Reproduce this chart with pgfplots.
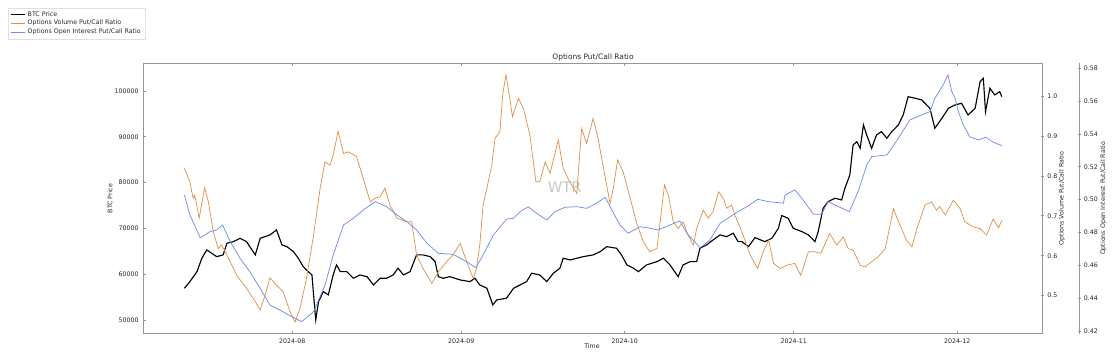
\documentclass[border=0pt]{standalone}
\usepackage{fontspec}
\setmainfont{DejaVu Sans}
\usepackage{pgfplots}
\usepackage{pgfplotstable}
\pgfplotsset{compat=1.18}
\definecolor{volc}{RGB}{224,145,75}
\definecolor{oic}{RGB}{110,140,235}
\definecolor{spine}{RGB}{150,150,150}

\pgfplotstableread{
x y
-19.8 56930
-18.8 58370
-17.5 60550
-16.6 63480
-15.7 65290
-14.8 64570
-13.9 63830
-12.7 64200
-12.0 66750
-10.8 67100
-9.6 67840
-8.4 67100
-6.8 64200
-5.9 67840
-4.1 68570
-2.9 69660
-1.9 66380
-1.0 66010
0.2 64920
1.1 63480
2.0 61640
2.6 60920
3.6 59830
3.9 55470
4.3 50010
4.8 54000
5.7 56190
6.6 55470
7.5 59830
8.1 62020
8.8 60550
10.0 60550
11.2 59110
12.4 59830
13.7 59460
14.9 57650
16.1 59110
17.3 59110
18.5 59830
19.4 61300
20.4 59830
21.6 60550
22.8 64200
24.0 64200
25.3 63830
26.2 62740
26.8 59460
27.7 59110
28.9 59460
30.8 58740
32.6 58370
33.5 59110
34.4 57650
35.7 56930
36.8 53280
37.5 54380
39.3 54750
40.6 56930
41.8 57650
43.0 58370
43.9 60200
45.4 59830
46.7 58370
47.9 60200
49.1 61300
49.7 63480
51.0 63110
52.2 63480
53.4 63830
55.2 64200
56.5 64920
57.7 66010
59.5 65660
60.4 64200
61.4 62020
62.6 61300
63.5 60550
65.0 62020
66.9 62740
68.1 63480
69.3 62020
70.8 59460
71.7 62020
73.0 62740
74.2 62740
74.8 65660
76.0 66380
77.2 67470
78.5 68570
79.7 68190
80.9 68940
81.8 67100
82.5 67100
83.7 66010
84.9 67980
86.7 67100
88.0 67840
89.2 70030
89.8 72780
91.0 72210
91.9 70030
93.5 69290
94.7 68570
95.9 67100
96.5 69290
97.4 74390
98.3 75830
99.6 76580
100.8 76200
101.4 78760
102.3 81660
102.9 88210
103.6 88930
104.2 87490
104.8 92580
105.4 90400
106.3 87490
107.2 90400
108.1 91120
109.1 89670
110.0 91120
111.2 92580
112.1 94760
113.0 98760
114.3 98410
115.5 98040
116.4 96940
117.0 96220
117.9 91860
119.2 94040
120.4 96220
121.6 96940
122.8 97310
124.0 94760
125.3 96220
126.2 102030
126.8 102770
127.2 95480
128.0 100590
128.9 99130
129.8 99850
130.2 98760
}\btc

\pgfplotstableread{
x y
-19.8 0.819
-18.8 0.785
-18.2 0.744
-17.9 0.752
-17.1 0.694
-16.1 0.770
-15.4 0.735
-14.5 0.660
-13.6 0.618
-13.0 0.627
-12.0 0.602
-10.2 0.551
-8.4 0.518
-6.8 0.485
-5.9 0.464
-5.0 0.501
-4.1 0.545
-2.9 0.526
-1.7 0.510
-0.4 0.459
0.5 0.434
1.4 0.468
2.6 0.543
3.9 0.652
5.1 0.769
6.0 0.835
6.9 0.827
7.5 0.852
8.4 0.912
9.4 0.856
10.3 0.860
11.8 0.848
13.0 0.794
14.3 0.735
15.2 0.744
16.1 0.748
17.0 0.769
17.9 0.727
19.2 0.694
21.0 0.685
21.9 0.685
22.8 0.602
24.0 0.568
25.6 0.531
26.8 0.560
28.3 0.585
29.5 0.602
30.8 0.631
32.0 0.585
33.2 0.543
33.8 0.568
34.4 0.627
35.0 0.727
35.7 0.769
36.6 0.827
37.2 0.894
38.1 0.911
38.6 1.003
39.2 1.053
39.8 1.003
40.4 0.948
41.5 0.994
42.4 0.969
43.6 0.902
44.7 0.785
45.4 0.785
46.4 0.835
47.3 0.806
48.8 0.890
49.7 0.819
50.9 0.785
52.2 0.756
53.1 0.919
54.0 0.881
55.2 0.944
56.1 0.894
57.1 0.819
58.3 0.731
58.9 0.769
59.7 0.840
60.7 0.810
62.0 0.744
63.2 0.681
64.4 0.635
65.6 0.610
66.9 0.618
67.5 0.685
68.3 0.777
69.0 0.752
69.9 0.685
70.8 0.668
71.7 0.685
72.6 0.652
73.6 0.627
74.2 0.668
75.4 0.714
76.3 0.694
77.2 0.710
78.2 0.760
79.1 0.744
79.7 0.719
80.6 0.727
81.2 0.702
82.5 0.660
84.0 0.602
85.4 0.568
86.4 0.610
87.4 0.639
88.3 0.581
89.5 0.568
90.7 0.576
92.2 0.581
93.3 0.551
94.7 0.610
95.9 0.610
97.0 0.606
98.6 0.656
99.9 0.627
101.1 0.647
102.0 0.618
102.9 0.614
104.2 0.576
105.1 0.572
106.3 0.585
107.5 0.597
108.8 0.618
110.3 0.717
111.5 0.677
112.7 0.639
113.7 0.622
114.6 0.668
116.1 0.727
117.3 0.735
118.2 0.714
118.8 0.723
119.8 0.702
121.3 0.739
122.5 0.719
123.4 0.685
125.0 0.672
126.2 0.668
127.4 0.652
128.6 0.692
129.6 0.670
130.2 0.689
}\vol

\pgfplotstableread{
x y
-19.8 0.5028
-18.8 0.4907
-16.9 0.4768
-15.1 0.4805
-13.9 0.4815
-12.8 0.4846
-11.4 0.4744
-9.6 0.4643
-7.8 0.4561
-5.9 0.4460
-4.1 0.4358
-2.3 0.4328
-0.1 0.4287
1.7 0.4257
3.9 0.4318
6.0 0.4480
7.5 0.4663
9.4 0.4846
11.2 0.4886
13.0 0.4937
15.2 0.4988
17.3 0.4957
19.2 0.4907
21.0 0.4866
22.8 0.4815
24.7 0.4734
26.8 0.4673
29.5 0.4667
31.4 0.4633
33.7 0.4586
35.0 0.4663
36.9 0.4785
39.3 0.4882
40.6 0.4886
41.8 0.4927
43.3 0.4957
44.8 0.4917
46.7 0.4876
48.2 0.4927
50.0 0.4953
52.2 0.4957
54.0 0.4947
55.8 0.4978
57.4 0.5014
58.3 0.4957
60.1 0.4846
61.6 0.4795
63.8 0.4835
65.6 0.4826
67.1 0.4815
69.3 0.4846
71.1 0.4870
72.4 0.4795
74.8 0.4707
76.6 0.4754
78.5 0.4856
80.3 0.4896
81.8 0.4927
83.4 0.4957
85.4 0.5002
87.3 0.4988
90.1 0.4978
90.4 0.5028
92.2 0.5059
93.5 0.5008
95.6 0.4911
97.1 0.4911
98.3 0.4988
100.2 0.4957
102.2 0.4927
103.8 0.5048
105.4 0.5211
106.3 0.5262
109.1 0.5272
111.2 0.5374
113.3 0.5485
115.5 0.5516
117.0 0.5536
117.9 0.5617
119.4 0.5698
120.3 0.5759
121.0 0.5657
121.6 0.5617
122.2 0.5536
123.1 0.5455
124.3 0.5383
125.9 0.5363
127.2 0.5380
128.6 0.5349
130.2 0.5329
}\oi

\pgfplotsset{
  base/.style={
    scale only axis, height=202.8pt,
    at={(107.5pt,20.5pt)}, anchor=south west,
    xmin=-27.34,
    /pgf/number format/assume math mode=true,
    tick label style={font=\fontsize{4.7}{5.6}\selectfont, text=black!85},
    label style={font=\fontsize{4.7}{5.6}\selectfont, text=black!85},
    axis line style={spine, line width=0.9pt},
    tick style={spine, line width=0.5pt},
    major tick length=2pt,
    clip=false,
  }
}

\begin{document}
\begin{tikzpicture}
\useasboundingbox (0,0) rectangle (837.75pt,270.75pt);

% left axis: BTC price
\begin{axis}[base,
  width=674.5pt, xmax=137.69,
  ymin=47009, ymax=106048,
  xtick={0,31,61,92,122},
  xticklabels={2024-08,2024-09,2024-10,2024-11,2024-12},
  ytick={50000,60000,70000,80000,90000,100000},
  scaled y ticks=false,
  yticklabel style={/pgf/number format/.cd, fixed, 1000 sep={}},
  ytick pos=left,
  tick align=inside,
  xlabel={Time},
  xlabel style={at={(axis description cs:0.4989,-0.0456)}, anchor=center},
  ylabel={BTC Price},
  ylabel style={at={(axis description cs:-0.0371,0.5)}, anchor=center, rotate=0},
  legend style={at={(axis description cs:-0.1505,1.2044)}, anchor=north west,
    draw=black!12, fill=white, font=\fontsize{4.7}{5.6}\selectfont, text=black!85,
    inner xsep=1.5pt, inner ysep=1.2pt, row sep=-0.9pt,
    nodes={inner ysep=1.2pt}},
  legend cell align=left,
  legend image code/.code={\draw[line width=0.6pt,#1] (0pt,0pt) -- (10.5pt,0pt);},
]
\addlegendimage{color=black, line width=0.85pt}
\addlegendentry{BTC Price}
\addlegendimage{color=volc, line width=0.8pt, solid}
\addlegendentry{Options Volume Put/Call Ratio}
\addlegendimage{color=oic, line width=0.6pt, solid}
\addlegendentry{Options Open Interest Put/Call Ratio}
\addplot[black, line width=0.85pt, forget plot] table[x=x,y=y]{\btc};
\node[font=\fontsize{11}{12}\selectfont, text=black!22] at (axis cs:50.0,79040) {WTR};
\node[font=\fontsize{5.6}{6.5}\selectfont, text=black!85] at (axis description cs:0.5,1.0232) {Options Put/Call Ratio};
\end{axis}

% right axis 1: volume put/call ratio
\begin{axis}[base,
  width=674.5pt, xmax=137.69,
  hide x axis,
  axis y line*=right,
  ymin=0.4049, ymax=1.0819,
  ytick={0.5,0.6,0.7,0.8,0.9,1.0},
  yticklabel style={xshift=-1pt, /pgf/number format/.cd, fixed, fixed zerofill, precision=1},
  tick align=center,
  ylabel={Options Volume Put/Call Ratio},
  ylabel style={at={(axis description cs:1.0215,0.5)}, anchor=center},
]
\addplot[volc, line width=0.55pt] table[x=x,y=y]{\vol};
\end{axis}

% right axis 2: open interest put/call ratio
\begin{axis}[base,
  width=702pt, xmax=144.40,
  hide x axis,
  axis y line*=right,
  ymin=0.4184, ymax=0.5830,
  ytick={0.42,0.44,0.46,0.48,0.50,0.52,0.54,0.56,0.58},
  yticklabel style={xshift=-1.2pt, /pgf/number format/.cd, fixed, fixed zerofill, precision=2},
  tick align=center,
  ylabel={Options Open Interest Put/Call Ratio},
  ylabel style={at={(axis description cs:1.0258,0.5)}, anchor=center},
]
\addplot[oic, line width=0.55pt] table[x=x,y=y]{\oi};
\end{axis}
\end{tikzpicture}
\end{document}
